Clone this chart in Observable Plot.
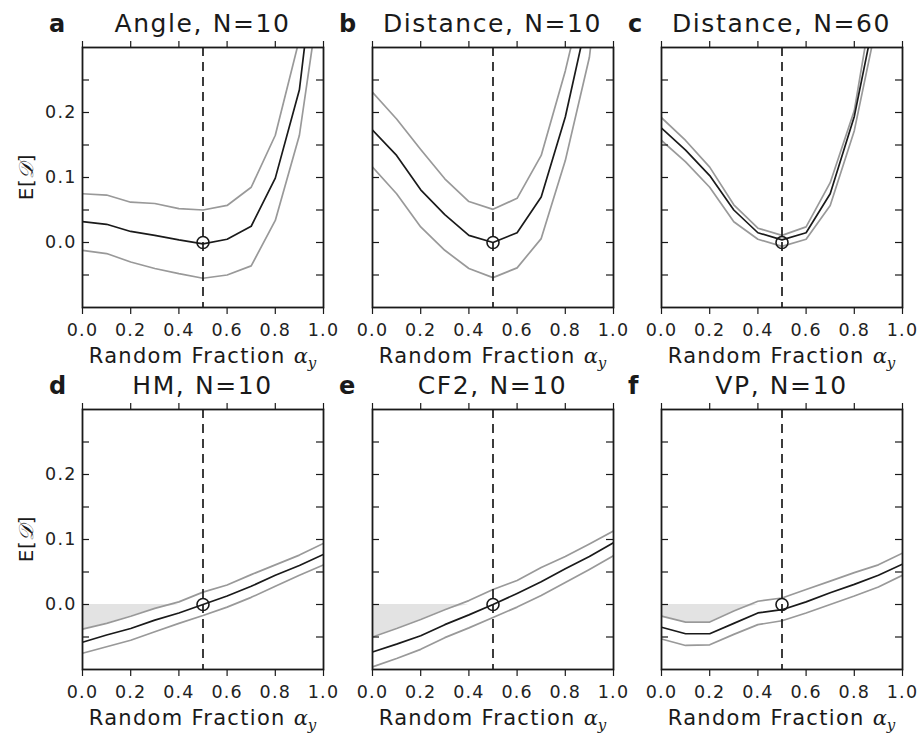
<!DOCTYPE html>
<html>
<head>
<meta charset="utf-8">
<script src="https://cdn.jsdelivr.net/npm/d3@7"></script>
<script src="https://cdn.jsdelivr.net/npm/@observablehq/plot@0.6"></script>
<style>
  html, body { margin: 0; padding: 0; background: #fff; }
  #chart { position: relative; width: 923px; height: 740px; background: #fff; overflow: hidden; }
  #chart svg { position: absolute; }
</style>
</head>
<body>
<div id="chart"></div>
<script>
// ---------- data ----------
const alpha = [0, 0.1, 0.2, 0.3, 0.4, 0.5, 0.6, 0.7, 0.8, 0.9, 1.0];

const letters = ["a", "b", "c", "d", "e", "f"];
const titles = ["Angle, N=10", "Distance, N=10", "Distance, N=60", "HM, N=10", "CF2, N=10", "VP, N=10"];
const shaded = [false, false, false, true, true, true];

const meanA  = [0.032, 0.028, 0.017, 0.011, 0.004, -0.002, 0.005, 0.025, 0.099, 0.235, 0.545];
const upperA = [0.075, 0.073, 0.062, 0.060, 0.052, 0.050, 0.057, 0.085, 0.165, 0.313, 0.62];
const lowerA = [-0.012, -0.017, -0.030, -0.040, -0.048, -0.055, -0.050, -0.036, 0.034, 0.165, 0.42];

const meanB  = [0.173, 0.134, 0.081, 0.043, 0.011, 0.000, 0.015, 0.070, 0.193, 0.36, 0.60];
const upperB = [0.231, 0.190, 0.143, 0.098, 0.063, 0.051, 0.068, 0.134, 0.264, 0.42, 0.65];
const lowerB = [0.116, 0.075, 0.024, -0.012, -0.040, -0.054, -0.039, 0.006, 0.126, 0.285, 0.60];

const meanC  = [0.176, 0.142, 0.103, 0.050, 0.015, 0.004, 0.015, 0.075, 0.194, 0.377, 0.60];
const upperC = [0.192, 0.157, 0.116, 0.058, 0.022, 0.011, 0.024, 0.092, 0.203, 0.423, 0.65];
const lowerC = [0.157, 0.124, 0.085, 0.032, 0.005, -0.006, 0.005, 0.057, 0.172, 0.350, 0.56];

const meanD  = [-0.058, -0.047, -0.037, -0.024, -0.013, 0.000, 0.013, 0.028, 0.045, 0.060, 0.077];
const upperD = [-0.038, -0.029, -0.018, -0.006, 0.004, 0.019, 0.030, 0.046, 0.061, 0.076, 0.094];
const lowerD = [-0.075, -0.065, -0.055, -0.042, -0.029, -0.017, -0.004, 0.011, 0.028, 0.045, 0.061];

const meanE  = [-0.073, -0.061, -0.048, -0.031, -0.016, 0.000, 0.017, 0.035, 0.055, 0.074, 0.095];
const upperE = [-0.050, -0.037, -0.023, -0.008, 0.006, 0.023, 0.037, 0.057, 0.074, 0.093, 0.113];
const lowerE = [-0.096, -0.083, -0.069, -0.051, -0.036, -0.020, -0.004, 0.014, 0.034, 0.054, 0.075];

const meanF  = [-0.035, -0.045, -0.045, -0.029, -0.013, -0.008, 0.004, 0.018, 0.031, 0.045, 0.062];
const upperF = [-0.018, -0.027, -0.027, -0.010, 0.005, 0.010, 0.023, 0.036, 0.049, 0.061, 0.079];
const lowerF = [-0.053, -0.063, -0.062, -0.046, -0.031, -0.025, -0.013, 0.000, 0.013, 0.027, 0.045];

const means  = [meanA, meanB, meanC, meanD, meanE, meanF];
const uppers = [upperA, upperB, upperC, upperD, upperE, upperF];
const lowers = [lowerA, lowerB, lowerC, lowerD, lowerE, lowerF];

const refX = [0.5];
const refY = [0];

const xTicks = [0, 0.2, 0.4, 0.6, 0.8, 1.0];
const yTicks = [-0.05, 0, 0.05, 0.1, 0.15, 0.2, 0.25];
const yLabelTicks = [0, 0.1, 0.2];
const xDomain = [0, 1];
const yDomain = [-0.1, 0.3];

// ---------- layout ----------
const ML = 70, MR = 15, MT = 47, MB = 65;
const PW = 241, PH = 260;
const colLeft = [12, 301.7, 591];
const rowTop = [0, 362.3];
const INK = "#1a1a1a";

const container = document.getElementById("chart");

function panel(i) {
  const col = i % 3, row = Math.floor(i / 3);
  const data = alpha.map((a, j) => ({a, m: means[i][j], u: uppers[i][j], l: lowers[i][j]}));
  const ref = refX.map((x, j) => ({x, y: refY[j]}));
  const marks = [];
  if (shaded[i]) {
    marks.push(Plot.areaY(data, {x: "a", y1: d => Math.min(d.u, 0), y2: 0, fill: "#e3e3e3"}));
  }
  marks.push(
    Plot.line(data, {x: "a", y: "u", stroke: "#999999", strokeWidth: 1.7, clip: true}),
    Plot.line(data, {x: "a", y: "l", stroke: "#999999", strokeWidth: 1.7, clip: true}),
    Plot.line(data, {x: "a", y: "m", stroke: INK, strokeWidth: 1.7, clip: true}),
    Plot.ruleX(refX, {x: d => d, stroke: INK, strokeWidth: 1.7, strokeDasharray: "9,6"}),
    Plot.dot(ref, {x: "x", y: "y", r: 6, stroke: INK, strokeWidth: 1.6, fill: "none"}),
    Plot.tickY(yTicks, {y: d => d, insetRight: PW - 7, stroke: INK, strokeWidth: 1.2}),
    Plot.tickY(yTicks, {y: d => d, insetLeft: PW - 7, stroke: INK, strokeWidth: 1.2}),
    Plot.axisX({anchor: "bottom", ticks: xTicks, tickSize: 7, tickPadding: 9, tickFormat: d => d.toFixed(1), label: null, fill: "#222", strokeWidth: 1.2}),
    Plot.axisX({anchor: "top", ticks: xTicks, tickSize: 7, tickFormat: () => "", label: null, strokeWidth: 1.2})
  );
  if (col === 0) {
    marks.push(Plot.axisY({anchor: "left", ticks: yLabelTicks, tickSize: 0, tickPadding: 6, tickFormat: d => d.toFixed(1), label: null, fill: "#222"}));
  }
  marks.push(Plot.frame({stroke: INK, strokeWidth: 1.8}));

  const svg = Plot.plot({
    width: ML + PW + MR,
    height: MT + PH + MB,
    marginLeft: ML, marginRight: MR, marginTop: MT, marginBottom: MB,
    x: {domain: xDomain, axis: null},
    y: {domain: yDomain, axis: null},
    style: {fontFamily: "DejaVu Sans", fontSize: "17.5px", background: "transparent", overflow: "visible", color: INK},
    marks
  });
  svg.style.left = colLeft[col] + "px";
  svg.style.top = rowTop[row] + "px";

  const s = d3.select(svg);
  // enlarge tick labels
  s.selectAll("g[aria-label$='tick label']").attr("font-size", null)
    .style("font-size", "17.5px").style("letter-spacing", "1.2px");
  s.selectAll("g[aria-label$='tick label'] text")
    .style("font-size", "17.5px").style("letter-spacing", "1.2px");
  // title
  s.append("text")
    .attr("x", ML + PW / 2).attr("y", MT - 15)
    .attr("text-anchor", "middle")
    .style("font-family", "DejaVu Sans").style("font-size", "25px").style("letter-spacing", "1.6px")
    .attr("fill", INK)
    .text(titles[i]);
  // panel letter
  s.append("text")
    .attr("x", ML - 33).attr("y", MT - 15)
    .attr("text-anchor", "start")
    .style("font-family", "DejaVu Sans").style("font-size", "24px").style("font-weight", "bold").style("letter-spacing", "0px")
    .attr("fill", INK)
    .text(letters[i]);
  // x label
  const xl = s.append("text")
    .attr("x", ML + PW / 2).attr("y", MT + PH + 56)
    .attr("text-anchor", "middle")
    .style("font-family", "DejaVu Sans").style("font-size", "21px").style("letter-spacing", "1.3px")
    .attr("fill", INK);
  xl.append("tspan").text("Random Fraction ");
  xl.append("tspan").style("font-family", "DejaVu Serif").style("font-style", "italic").style("letter-spacing", "0px").text("α");
  xl.append("tspan").attr("dy", 5).style("font-family", "DejaVu Serif").style("font-style", "italic").style("font-size", "15px").style("letter-spacing", "0px").text("y");
  // y label
  if (col === 0) {
    const yl = s.append("text")
      .attr("transform", `translate(${ML - 49},${MT + PH / 2}) rotate(-90)`)
      .attr("text-anchor", "middle")
      .style("font-family", "DejaVu Sans").style("font-size", "20px").style("letter-spacing", "0.5px")
      .attr("fill", INK);
    yl.append("tspan").text("E[");
    yl.append("tspan").style("font-family", "DejaVu Serif").style("font-style", "italic").text("𝒟");
    yl.append("tspan").text("]");
  }
  container.appendChild(svg);
}

for (let i = 0; i < 6; i++) panel(i);
</script>
</body>
</html>
